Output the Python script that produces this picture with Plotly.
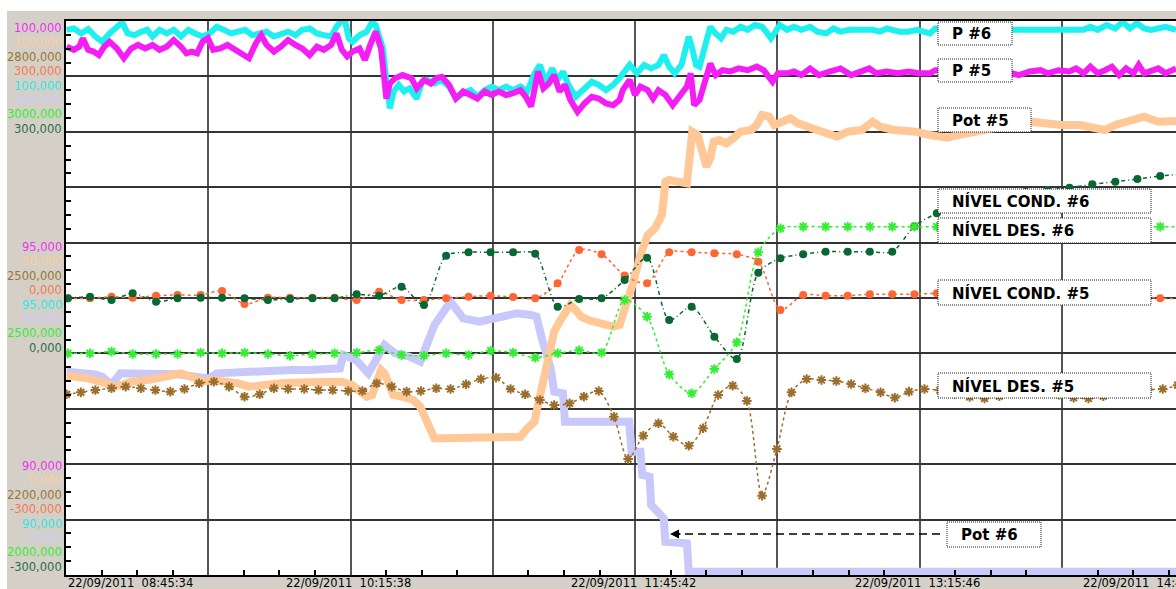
import pandas as pd
import plotly.graph_objects as go

# ---------------------------------------------------------------- data
T0 = pd.Timestamp("2011-09-22 08:45:34")
X_END_MIN = 351.3              # visible span of the trend window (minutes)
GRID_MS = 2702000              # 45 min 02 s between vertical grid lines

# P #6 (cyan) - minutes after T0 / value
p6_min = [0.2, 2.5, 4.8, 7.0, 9.3, 11.5, 13.8, 16.1, 17.8, 19.5,
          21.7, 24.0, 25.7, 27.4, 29.6, 31.9, 34.1, 36.4, 38.7, 40.9,
          43.2, 45.4, 47.7, 50.0, 52.2, 54.5, 56.7, 59.0, 61.3, 63.5,
          65.8, 68.0, 70.3, 72.6, 74.8, 77.1, 79.4, 81.6, 83.9, 85.6,
          87.3, 88.4, 89.5, 90.7, 92.9, 95.2, 96.9, 98.0, 99.1, 100.3,
          101.4, 102.5, 103.7, 105.3, 107.0, 108.7, 111.0, 112.7, 114.4, 116.7,
          118.9, 121.2, 123.4, 125.7, 128.0, 130.2, 132.5, 134.7, 137.0, 139.3,
          141.5, 143.8, 146.0, 148.3, 150.0, 151.7, 153.9, 155.6, 157.3, 159.0,
          161.3, 164.1, 166.4, 168.6, 170.9, 173.2, 175.2,
          178.4, 180.7, 183.0, 185.2, 187.5, 189.2, 190.9, 192.6, 194.8, 197.1,
          198.2, 199.4, 200.5, 202.2, 203.9, 205.6, 207.3, 209.0, 211.2, 213.5,
          215.7, 218.0, 220.3, 222.0, 223.1, 224.2, 225.9, 228.2, 230.4, 232.7,
          235.5, 237.8, 240.6, 242.9, 245.1, 248.0, 250.8, 253.6, 255.3, 257.6,
          259.8, 261.5, 263.8, 266.6, 269.4, 273.4, 275.1, 287.0, 299.4, 301.6,
          303.9, 306.7, 309.5, 312.4, 315.2, 317.5, 319.7, 322.0, 324.2, 326.5,
          329.3, 332.1, 334.4, 336.7, 338.9, 341.2, 343.4, 345.7, 348.0, 351.3]
p6_val = [99.80, 99.83, 99.72, 99.82, 99.65, 99.53, 99.72, 99.87, 99.97, 99.72,
          99.68, 99.76, 99.80, 99.65, 99.80, 99.72, 99.80, 99.65, 99.80, 99.72,
          99.65, 99.72, 99.87, 99.80, 99.72, 99.76, 99.80, 99.68, 99.72, 99.76,
          99.65, 99.72, 99.76, 99.68, 99.80, 99.83, 99.72, 99.68, 99.65, 99.87,
          100.02, 99.98, 99.61, 99.53, 99.68, 99.76, 99.98, 99.91, 99.68, 99.38,
          98.63, 98.03, 98.41, 98.56, 98.41, 98.48, 98.25, 98.63, 98.67, 98.59,
          98.67, 98.52, 98.25, 98.37, 98.44, 98.29, 98.44, 98.52, 98.44, 98.52,
          98.44, 98.52, 98.41, 98.82, 99.01, 98.63, 98.93, 98.67, 98.86, 98.56,
          98.29, 98.48, 98.63, 98.56, 98.44, 98.56, 98.71,
          99.01, 98.82, 99.01, 98.93, 99.01, 99.23, 98.97, 98.82, 99.01, 99.65,
          99.38, 99.01, 98.97, 99.46, 99.87, 99.72, 99.61, 99.80, 99.76, 99.87,
          99.80, 99.91, 99.87, 99.72, 99.61, 99.72, 99.91, 99.80, 99.87, 99.80,
          99.87, 99.76, 99.72, 99.83, 99.76, 99.80, 99.80, 99.83, 99.80, 99.76,
          99.83, 99.80, 99.76, 99.76, 99.80, 99.72, 99.83, 99.80, 99.80, 99.83,
          99.80, 99.83, 99.80, 99.83, 99.83, 99.80, 99.83, 99.80, 99.87, 99.80,
          99.91, 99.83, 99.98, 99.83, 99.95, 99.83, 99.80, 99.83, 99.87, 99.80]

# P #5 (magenta)
p5_min = [0.2, 2.5, 4.2, 5.3, 7.0, 8.7, 10.4, 12.1, 13.8, 16.1,
          18.3, 20.6, 22.8, 25.1, 27.4, 29.6, 31.9, 34.1, 36.4, 38.1,
          39.8, 41.5, 43.2, 44.9, 46.6, 48.8, 51.1, 53.4, 55.6, 57.9,
          60.1, 61.8, 63.5, 65.8, 68.0, 70.3, 72.6, 74.8, 77.1, 79.4,
          81.6, 83.9, 85.6, 87.3, 89.0, 90.7, 92.9, 94.6, 96.3, 98.0,
          99.7, 101.4, 102.5, 104.2, 106.5, 109.3, 111.0, 113.3, 115.5, 117.2,
          118.9, 121.2, 123.4, 125.7, 128.0, 130.2, 132.5, 134.7, 137.0, 139.3,
          141.5, 143.8, 145.5, 147.2, 149.4, 151.1, 152.8, 154.5, 156.2, 157.9,
          159.6, 161.9, 164.1, 166.4, 168.6, 170.9, 173.2, 175.2,
          176.2, 178.4, 180.1, 181.8, 184.1, 185.8, 187.5, 189.7, 192.0, 194.3,
          196.5, 197.7, 198.8, 200.5, 202.2, 203.9, 205.6, 207.8, 210.1, 212.9,
          215.7, 218.6, 220.8, 222.5, 223.6, 225.3, 228.2, 230.4, 232.7, 235.5,
          238.3, 241.7, 245.1, 248.5, 251.9, 254.2, 256.4, 259.8, 263.2, 266.6,
          270.0, 273.4, 275.1, 287.0, 299.4, 301.6, 305.0, 308.4, 310.7, 314.1,
          317.5, 319.7, 322.0, 324.2, 326.5, 328.8, 331.0, 333.3, 335.5, 337.8,
          339.5, 341.2, 343.4, 345.7, 348.0, 351.3]
p5_val = [99.42, 99.35, 99.42, 99.61, 99.35, 99.31, 99.23, 99.42, 99.53, 99.38,
          99.16, 99.38, 99.46, 99.38, 99.46, 99.35, 99.42, 99.57, 99.42, 99.27,
          99.31, 99.27, 99.53, 99.61, 99.35, 99.38, 99.46, 99.35, 99.27, 99.16,
          99.50, 99.68, 99.46, 99.31, 99.42, 99.57, 99.46, 99.38, 99.23, 99.42,
          99.35, 99.46, 99.72, 99.35, 99.20, 99.31, 99.38, 99.12, 99.46, 99.76,
          99.38, 98.25, 98.59, 98.71, 98.78, 98.71, 98.48, 98.67, 98.59, 98.71,
          98.74, 98.56, 98.25, 98.41, 98.33, 98.25, 98.41, 98.33, 98.41, 98.33,
          98.37, 98.44, 98.29, 98.07, 98.86, 98.48, 98.59, 98.78, 98.41, 98.56,
          98.22, 97.95, 98.14, 98.29, 98.25, 98.14, 98.10, 98.22,
          98.44, 98.67, 98.33, 98.52, 98.44, 98.25, 98.44, 98.33, 98.10, 98.29,
          98.52, 98.82, 98.10, 98.22, 98.63, 99.04, 98.78, 98.89, 98.86, 98.93,
          98.89, 98.97, 98.89, 98.71, 98.63, 98.82, 98.82, 98.86, 98.78, 98.93,
          98.78, 98.86, 98.93, 98.78, 98.86, 98.93, 98.82, 98.86, 98.82, 98.86,
          98.82, 98.82, 98.89, 98.86, 98.82, 98.78, 98.86, 98.89, 98.82, 98.89,
          98.86, 98.93, 98.82, 98.97, 98.82, 98.89, 98.97, 98.78, 98.93, 98.82,
          99.01, 98.82, 98.89, 98.93, 98.82, 98.93]

# Pot #5 (peach)
pot5_min = [0.2, 7.0, 12.7, 15.0, 17.8, 20.6, 27.4, 34.1, 36.4, 40.9,
            43.2, 46.6, 51.1, 54.5, 57.9, 61.3, 68.0, 77.1, 83.9, 87.3,
            90.6, 93.5, 95.2, 96.9, 98.6, 99.7, 100.8, 102.0, 103.6, 106.5,
            109.9, 112.1, 114.4, 116.6, 120.0, 128.0, 134.7, 139.3, 143.8, 146.0,
            148.3, 148.9, 150.0, 151.7, 153.4, 154.5, 156.2, 158.5, 159.6, 161.3,
            163.0, 165.2, 169.8, 173.2, 175.2, 177.3, 179.6, 181.8, 184.1, 186.4,
            188.6, 189.7, 190.9, 196.5, 197.7, 198.2, 199.9, 201.6, 202.7, 203.9,
            205.0, 206.7, 209.0, 211.2, 213.5, 216.9, 218.6, 220.3, 222.5, 224.2,
            227.0, 229.3, 231.6, 235.0, 238.3, 241.7, 244.0, 247.4, 251.9, 255.3,
            257.6, 262.1, 265.5, 268.9, 273.4, 279.0, 282.4, 284.7, 295.0, 305.0,
            309.5, 315.2, 320.8, 324.2, 328.8, 332.1, 335.5, 341.2, 345.7, 351.3]
pot5_val = [19.97, 19.37, 18.24, 17.49, 17.87, 18.62, 19.15, 20.12, 20.50, 19.37,
            18.62, 19.00, 18.62, 18.24, 17.49, 17.87, 18.24, 18.47, 18.77, 18.62,
            17.87, 16.36, 15.23, 15.61, 19.00, 21.25, 20.50, 17.87, 15.61, 15.23,
            14.48, 12.98, 9.59, 5.83, 5.83, 5.98, 5.98, 6.21, 6.21, 8.09,
            9.59, 11.85, 15.61, 21.63, 25.76, 29.90, 32.16, 35.17, 35.92, 34.79,
            33.29, 32.53, 31.78, 31.03, 31.40, 35.92, 41.19, 47.20, 51.72, 53.22,
            56.23, 63.75, 64.12, 63.37, 72.78, 75.03, 74.28, 69.77, 67.13, 69.01,
            72.78, 73.15, 72.40, 73.53, 75.03, 75.41, 76.54, 78.79, 78.42, 76.54,
            77.29, 78.04, 76.91, 76.16, 75.41, 74.28, 73.90, 75.03, 75.41, 77.29,
            76.16, 75.41, 75.41, 75.03, 74.28, 73.68, 74.28, 74.65, 76.00, 77.29,
            76.91, 76.54, 76.54, 76.16, 75.41, 76.54, 77.29, 78.42, 77.29, 77.44]

# Pot #6 (lavender)
pot6_min = [0.2, 4.8, 9.3, 11.5, 14.4, 17.2, 20.6, 27.4, 35.3, 40.9,
            45.4, 47.7, 52.2, 61.3, 71.4, 77.1, 86.7, 87.8, 91.8, 95.7,
            100.8, 104.2, 108.7, 112.1, 116.6, 121.7, 125.7, 130.8, 134.7, 142.6,
            147.2, 148.9, 150.6, 153.4, 154.5, 157.3, 157.9, 163.0, 173.9, 178.2,
            179.0, 181.8, 182.4, 184.7, 185.2, 188.0, 189.2, 189.7, 196.5, 197.1,
            351.3]
pot6_val = [20.87, 20.72, 20.27, 19.75, 17.87, 20.50, 20.50, 20.27, 20.27, 19.75,
            19.37, 20.50, 20.72, 20.87, 21.25, 21.25, 21.63, 24.64, 23.51, 20.50,
            26.89, 25.01, 24.26, 23.13, 31.40, 36.67, 32.91, 32.16, 32.91, 34.04,
            33.66, 33.29, 28.40, 21.63, 16.36, 15.99, 9.59, 9.59, 9.97, 9.60,
            2.83, 2.83, -2.44, -2.81, -9.21, -11.46, -12.22, -17.48, -17.86, -24.25,
            -24.25]

# level samples (every ~7 min) shared by NÍVEL COND. #5 / #6 and NÍVEL DES. #6
lvl_min = [0.6, 7.6, 14.4, 21.1, 28.5, 35.3, 42.6, 49.4, 56.5, 63.9,
           70.9, 78.0, 85.0, 92.0, 99.1, 106.2, 113.3, 120.3, 127.4, 134.4,
           141.5, 148.5, 155.6, 162.4, 169.5, 176.8, 183.9, 190.9, 198.0, 205.2,
           212.3, 219.1, 226.1, 233.3, 240.4, 247.4, 254.4, 261.5, 268.5, 275.6,
           282.8, 289.7, 296.7, 303.7, 310.6, 317.6, 324.8, 332.1, 339.1, 346.3,
           353.3]
cond6_val = [-37.9, -35.9, -39.9, -31.8, -42.0, -37.9, -37.1, -37.1, -37.9, -39.9,
             -38.7, -37.9, -37.9, -33.0, -34.7, -23.7, -46.0, 14.0, 18.2, 18.2,
             18.2, 16.5, -48.1, -38.7, -37.9, -15.6, 11.6, -64.3, -48.1, -84.6,
             -111.8, -6.7, 10.9, 15.8, 18.9, 18.9, 18.9, 18.9, 50.0, 65.7,
             75.8, 81.9, 86.8, 91.7, 94.1, 96.9, 101.0, 104.2, 107.5, 111.1,
             113.6]
cond5_val = [-37.9, -37.9, -35.9, -37.1, -34.7, -33.8, -33.8, -29.0, -44.8, -37.1,
             -37.1, -37.1, -37.1, -39.9, -30.0, -39.9, -39.9, -37.9, -35.9, -34.7,
             -36.3, -37.9, -19.6, 21.0, 15.8, -10.0, -19.6, 18.2, 18.2, 17.0,
             15.8, 6.7, -52.1, -33.8, -34.7, -34.7, -33.0, -33.0, -33.0, -31.8,
             -33.0, -33.0, -33.0, -33.0, -33.0, -33.0, -33.0, -33.0, -35.0, -37.9,
             -37.9]
des6_val = [2325.2, 2325.2, 2328.5, 2323.8, 2323.8, 2323.8, 2326.4, 2325.2, 2326.4, 2323.8,
            2320.3, 2323.2, 2325.2, 2326.4, 2331.9, 2321.8, 2320.3, 2325.2, 2321.8, 2330.5,
            2326.4, 2316.3, 2325.2, 2331.3, 2326.4, 2433.4, 2399.5, 2282.5, 2244.0, 2293.3,
            2347.5, 2530.3, 2579.0, 2582.3, 2582.3, 2582.3, 2582.3, 2582.3, 2582.3, 2582.3,
            2582.3, 2582.3, 2582.3, 2582.3, 2582.3, 2582.3, 2582.3, 2582.3, 2582.3, 2582.3,
            2582.3]

# NÍVEL DES. #5 (brown, sampled every ~4.7 min)
des5_min = [0.2, 4.7, 9.3, 14.4, 18.9, 23.7, 28.3, 33.0, 37.5, 42.1,
            46.8, 51.6, 56.5, 61.3, 65.8, 70.3, 75.4, 79.9, 84.4, 89.3,
            93.8, 98.3, 103.1, 107.8, 112.3, 117.2, 121.7, 126.6, 131.3, 136.1,
            140.7, 145.3, 150.0, 154.5, 159.4, 163.9, 168.6, 173.4, 177.9, 182.7,
            187.5, 192.2, 197.1, 201.6, 206.4, 211.0, 215.5, 220.3, 225.0, 229.6,
            234.4, 239.1, 243.8, 248.5, 253.0, 257.8, 262.3, 266.8, 271.7, 276.6,
            281.3, 286.0, 290.7, 295.4, 300.1, 304.8, 309.5, 314.2, 318.9, 323.6,
            328.3, 333.0, 337.7, 342.4, 347.1, 351.8]
des5_val = [2294.6, 2297.3, 2300.4, 2302.8, 2305.0, 2302.8, 2300.4, 2298.2, 2301.8, 2309.5,
            2311.7, 2305.0, 2291.4, 2294.6, 2302.8, 2301.8, 2301.8, 2300.4, 2300.4, 2299.1,
            2299.1, 2309.5, 2305.0, 2298.2, 2299.1, 2302.8, 2301.8, 2308.2, 2315.3, 2317.1,
            2301.8, 2294.6, 2286.9, 2280.1, 2282.4, 2291.4, 2299.1, 2264.3, 2207.0, 2238.6,
            2255.4, 2237.2, 2225.0, 2248.6, 2293.7, 2306.3, 2285.6, 2157.4, 2220.6, 2297.3,
            2315.3, 2314.0, 2312.6, 2308.5, 2302.8, 2297.3, 2290.0, 2298.2, 2301.8, 2300.0,
            2295.0, 2291.0, 2289.0, 2292.0, 2296.0, 2298.0, 2297.0, 2294.0, 2290.0, 2289.0,
            2292.0, 2296.0, 2299.0, 2301.0, 2301.8, 2307.0]

# scale labels on the left panel, one column per pen, three grid levels
scale_top = ["100,000", "100,000", "2800,000", "300,000", "100,000", "100,000", "3000,000", "300,000"]
scale_mid = ["95,000", "50,000", "2500,000", "0,000", "95,000", "50,000", "2500,000", "0,000"]
scale_bot = ["90,000", "0,000", "2200,000", "-300,000", "90,000", "0,000", "2000,000", "-300,000"]

time_labels = ["22/09/2011\u00a0\u00a008:45:34", "22/09/2011\u00a0\u00a010:15:38",
               "22/09/2011\u00a0\u00a011:45:42", "22/09/2011\u00a0\u00a013:15:46",
               "22/09/2011\u00a0\u00a014:45:50"]
time_label_min = [0.0, 90.07, 180.13, 270.2, 360.27]

# ---------------------------------------------------------------- styling
C_P6, C_P5 = "#1EF0F0", "#F41EF4"
C_POT5, C_POT6 = "#FFC896", "#C8C8FA"
C_COND6, C_COND5 = "#0A6632", "#FF6633"
C_DES6, C_DES5 = "#33EE33", "#9C6E2C"
label_colors = ["#F030F0", "#FFCC99", "#9C7430", "#F47850",
                "#30E6E6", "#CCCCFA", "#30EE30", "#2A6E48"]

W, H = 1176, 589
L, R, T, B = 66, 0, 21, 14
PW, PH = W - L - R, H - T - B


def px_x(px):
    return (px - L) / PW


def px_y(py):
    return (H - B - py) / PH


def ts(minutes):
    return [T0 + pd.Timedelta(minutes=m) for m in minutes]


fig = go.Figure()


def level_trace(mins, vals, axis, color, symbol, dash, size):
    fig.add_trace(go.Scatter(
        x=ts(mins), y=vals, yaxis=axis, mode="lines+markers",
        line=dict(color=color, width=1.5, dash=dash, shape="spline", smoothing=0.8),
        marker=dict(symbol=symbol, size=size, color=color,
                    line=dict(color=color, width=2 if "asterisk" in symbol else 0)),
        hoverinfo="skip"))


def thick_trace(mins, vals, axis, color, width):
    fig.add_trace(go.Scatter(
        x=ts(mins), y=vals, yaxis=axis, mode="lines",
        line=dict(color=color, width=width), hoverinfo="skip"))


level_trace(des5_min, des5_val, "y3", C_DES5, "asterisk-open", "dot", 8)
level_trace(lvl_min, des6_val, "y5", C_DES6, "asterisk-open", "dot", 8)
level_trace(lvl_min, cond5_val, "y4", C_COND5, "circle", "dot", 8)
level_trace(lvl_min, cond6_val, "y4", C_COND6, "circle", "4px,3px,1px,3px", 8)
thick_trace(pot6_min, pot6_val, "y2", C_POT6, 8)
thick_trace(pot5_min, pot5_val, "y2", C_POT5, 8)
thick_trace(p6_min, p6_val, "y", C_P6, 6)
thick_trace(p5_min, p5_val, "y", C_P5, 6)

# ---------------------------------------------------------------- annotations
ann = []
label_font = "DejaVu Sans"
for first_px, texts in ((28, scale_top), (247, scale_mid), (466, scale_bot)):
    for i, (txt, col) in enumerate(zip(texts, label_colors)):
        ann.append(dict(xref="paper", yref="paper", x=px_x(63.5), y=px_y(first_px + 14.4 * i),
                        xanchor="right", yanchor="middle", text=txt, showarrow=False,
                        font=dict(family=label_font, size=11.5, color=col)))

for k, (txt, m) in enumerate(zip(time_labels, time_label_min)):
    when = T0 + pd.Timedelta(minutes=m)
    if k == 0:
        ann.append(dict(xref="x", yref="paper", x=when, y=px_y(583), xanchor="left",
                        yanchor="middle", text=txt, showarrow=False,
                        font=dict(family=label_font, size=11.5, color="black")))
    elif k == len(time_labels) - 1:
        ann.append(dict(xref="paper", yref="paper", x=px_x(1081), y=px_y(583), xanchor="left",
                        yanchor="middle", text=txt, showarrow=False,
                        font=dict(family=label_font, size=11.5, color="black")))
    else:
        ann.append(dict(xref="x", yref="paper", x=when, y=px_y(583), xanchor="center",
                        yanchor="middle", text=txt, showarrow=False, xshift=-2,
                        font=dict(family=label_font, size=11.5, color="black")))

# pen tags (text, left, top, right, bottom in px)
tags = [("P #6", 938, 22, 1012, 45), ("P #5", 938, 59, 1012, 82),
        ("Pot #5", 938, 108, 1031, 132), ("NÍVEL COND. #6", 938, 189, 1151, 213),
        ("NÍVEL DES. #6", 938, 218, 1151, 243), ("NÍVEL COND. #5", 938, 280, 1151, 305),
        ("NÍVEL DES. #5", 938, 373, 1151, 398), ("Pot #6", 947, 522, 1041, 547)]

shapes = [
    # white page border around the grey frame
    dict(type="rect", xref="paper", yref="paper", x0=px_x(0), x1=px_x(W), y0=px_y(11), y1=px_y(0),
         fillcolor="white", line=dict(width=0), layer="above"),
    dict(type="rect", xref="paper", yref="paper", x0=px_x(0), x1=px_x(7), y0=px_y(H), y1=px_y(0),
         fillcolor="white", line=dict(width=0), layer="above"),
]
for txt, x0, y0, x1, y1 in tags:
    shapes.append(dict(type="rect", xref="paper", yref="paper",
                       x0=px_x(x0), x1=px_x(x1), y0=px_y(y1), y1=px_y(y0),
                       fillcolor="white", line=dict(color="#222222", width=1, dash="1px,1px"),
                       layer="above"))
    ann.append(dict(xref="paper", yref="paper", x=px_x(x0 + 12), y=px_y((y0 + y1) / 2 + 0.5),
                    xanchor="left", yanchor="middle", text="<b>%s</b>" % txt, showarrow=False,
                    font=dict(family="DejaVu Sans", size=15, color="black")))

# dashed leader from the Pot #6 tag to its curve
shapes.append(dict(type="line", xref="paper", yref="paper", x0=px_x(940), x1=px_x(678),
                   y0=px_y(534), y1=px_y(534), line=dict(color="black", width=1.5, dash="8px,5px"),
                   layer="above"))
ann.append(dict(xref="paper", yref="paper", x=px_x(670), y=px_y(534), ax=12, ay=0,
                text="", showarrow=True, arrowhead=2, arrowsize=1.2, arrowwidth=1.5,
                arrowcolor="black"))

# ---------------------------------------------------------------- layout
x_range = [T0, T0 + pd.Timedelta(minutes=X_END_MIN)]
hidden = dict(overlaying="y", visible=False, fixedrange=True)

fig.update_layout(
    width=W, height=H, margin=dict(l=L, r=R, t=T, b=B, pad=0),
    paper_bgcolor="#D4D0C8", plot_bgcolor="white", showlegend=False,
    xaxis=dict(type="date", range=x_range, tick0=T0, dtick=GRID_MS,
               showgrid=True, gridcolor="#555555", gridwidth=2, showticklabels=False,
               ticks="", zeroline=False, showline=True, linecolor="black", linewidth=2,
               mirror=True,
               minor=dict(tick0=T0, dtick=GRID_MS / 4, ticks="inside", ticklen=5,
                          tickcolor="black", tickwidth=1.5, showgrid=False)),
    yaxis=dict(range=[87.5, 100], tick0=87.5, dtick=1.25, showgrid=True,
               gridcolor="#333333", gridwidth=1.5, showticklabels=False, ticks="",
               zeroline=False, showline=True, linecolor="black", linewidth=2,
               minor=dict(dtick=0.3125, ticks="inside", ticklen=5, tickcolor="black",
                          tickwidth=1.5, showgrid=False)),
    yaxis2=dict(range=[-25, 100], **hidden),
    yaxis3=dict(range=[2050, 2800], **hidden),
    yaxis4=dict(range=[-375, 300], **hidden),
    yaxis5=dict(range=[1875, 3000], **hidden),
    shapes=shapes,
    annotations=ann,
)

fig.write_html("out.html")
